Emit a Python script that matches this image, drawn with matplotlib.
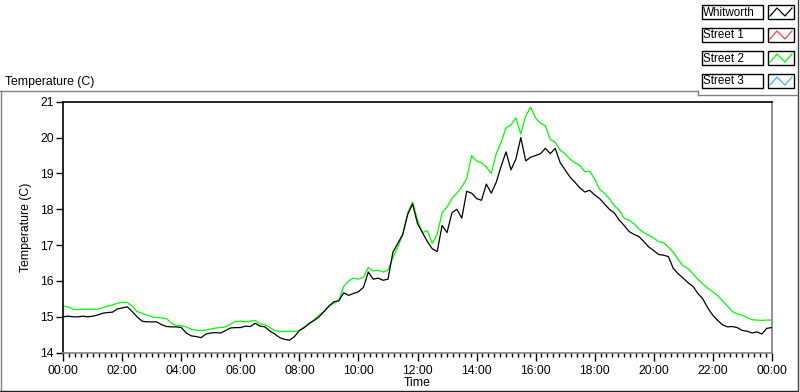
import numpy as np
import matplotlib
matplotlib.use("Agg")
import matplotlib.pyplot as plt
from matplotlib.lines import Line2D
from matplotlib.patches import Rectangle
from matplotlib.ticker import MultipleLocator, FixedLocator

plt.rcParams['font.family'] = ['Liberation Sans', 'DejaVu Sans']

# ---- data (10-minute samples, 00:00 .. 24:00) ----
whitworth = [
    15.0, 15.02, 15.0, 15.0, 15.02, 15.0,
    15.02, 15.05, 15.1, 15.12, 15.13, 15.22,
    15.25, 15.28, 15.15, 15.0, 14.88, 14.86,
    14.86, 14.86, 14.78, 14.73, 14.72, 14.72,
    14.7, 14.55, 14.47, 14.45, 14.42, 14.52,
    14.55, 14.56, 14.55, 14.62, 14.69, 14.7,
    14.7, 14.74, 14.73, 14.82, 14.74, 14.72,
    14.6, 14.52, 14.42, 14.37, 14.35, 14.45,
    14.62, 14.7, 14.82, 14.9, 15.0, 15.15,
    15.3, 15.42, 15.45, 15.67, 15.6, 15.65,
    15.7, 15.82, 16.25, 16.05, 16.08, 16.02,
    16.05, 16.8, 17.05, 17.3, 17.85, 18.15,
    17.6, 17.35, 17.1, 16.9, 16.82, 17.55,
    17.35, 17.9, 18.0, 17.75, 18.5, 18.45,
    18.3, 18.25, 18.7, 18.45, 18.75, 19.2,
    19.6, 19.1, 19.4, 20.0, 19.35, 19.45,
    19.5, 19.55, 19.7, 19.55, 19.7, 19.3,
    19.1, 18.9, 18.75, 18.6, 18.48, 18.53,
    18.4, 18.3, 18.15, 18.0, 17.9, 17.7,
    17.55, 17.38, 17.3, 17.24, 17.1, 16.95,
    16.85, 16.74, 16.72, 16.68, 16.35, 16.2,
    16.08, 15.95, 15.85, 15.65, 15.5, 15.25,
    15.05, 14.9, 14.78, 14.72, 14.73, 14.7,
    14.62, 14.6, 14.55, 14.58, 14.52, 14.68,
    14.7,
]
street2 = [
    15.3, 15.28, 15.21, 15.2, 15.21, 15.21,
    15.21, 15.22, 15.25, 15.3, 15.33, 15.38,
    15.41, 15.4, 15.3, 15.15, 15.1, 15.05,
    15.0, 14.98, 14.97, 14.95, 14.82, 14.76,
    14.75, 14.72, 14.65, 14.63, 14.62, 14.63,
    14.66, 14.69, 14.7, 14.72, 14.8, 14.87,
    14.88, 14.86, 14.88, 14.9, 14.8, 14.78,
    14.7, 14.62, 14.59, 14.59, 14.6, 14.59,
    14.62, 14.72, 14.8, 14.92, 15.05, 15.15,
    15.3, 15.38, 15.45, 15.85, 16.0, 16.08,
    16.05, 16.1, 16.38, 16.28, 16.3, 16.25,
    16.3, 16.65, 16.95, 17.3, 17.9, 18.2,
    17.7, 17.35, 17.4, 17.05, 17.3, 17.9,
    18.06, 18.3, 18.45, 18.62, 18.85, 19.5,
    19.35, 19.3, 19.18, 19.0, 19.55, 19.87,
    20.27, 20.35, 20.55, 20.1, 20.6, 20.85,
    20.55, 20.4, 20.33, 19.95, 19.87, 19.65,
    19.55, 19.4, 19.3, 19.22, 19.05, 19.06,
    18.85, 18.56, 18.45, 18.3, 18.1, 17.98,
    17.75, 17.7, 17.6, 17.45, 17.35, 17.28,
    17.2, 17.1, 17.07, 16.95, 16.8, 16.6,
    16.42, 16.35, 16.2, 16.05, 15.92, 15.8,
    15.7, 15.6, 15.45, 15.3, 15.15, 15.08,
    15.05, 14.98, 14.92, 14.91, 14.9, 14.91,
    14.91,
]
series_names = ["Whitworth", "Street 1", "Street 2", "Street 3"]
series_colors = ["#000000", "#ff4040", "#00ff00", "#3fb4ff"]
x_tick_hours = [0, 2, 4, 6, 8, 10, 12, 14, 16, 18, 20, 22, 24]
x_tick_labels = ["00:00", "02:00", "04:00", "06:00", "08:00", "10:00", "12:00",
                 "14:00", "16:00", "18:00", "20:00", "22:00", "00:00"]
y_ticks = [14, 15, 16, 17, 18, 19, 20, 21]

hours = np.arange(len(whitworth)) / 6.0

W, H = 800, 392
fig = plt.figure(figsize=(W / 100, H / 100), dpi=100)
fig.patch.set_facecolor("white")

def fx(x):
    return x / W

def fy(y):
    return 1 - y / H

FS = 8.8

# plot area
ax = fig.add_axes([fx(63.3), fy(352.7), fx(771.7) - fx(63.3), fy(101.7) - fy(352.7)])
ax.plot(hours, whitworth, color=series_colors[0], lw=0.9, zorder=3)
ax.plot(hours, street2, color=series_colors[2], lw=0.9, zorder=2)
ax.set_xlim(0, 24)
ax.set_ylim(14, 21)
ax.xaxis.set_major_locator(FixedLocator(x_tick_hours))
ax.set_xticklabels(x_tick_labels)
ax.xaxis.set_minor_locator(MultipleLocator(0.2))
ax.set_yticks(y_ticks)
ax.tick_params(axis='y', direction='out', length=5, width=1, labelsize=FS, pad=2, color='black')
ax.tick_params(axis='x', which='major', direction='out', length=6, width=1, labelsize=FS, pad=3, color='black')
ax.tick_params(axis='x', which='minor', direction='out', length=3, width=1, color='black')
for s in ['left', 'top']:
    ax.spines[s].set_color('black')
    ax.spines[s].set_linewidth(1.2)
for s in ['right', 'bottom']:
    ax.spines[s].set_color('#808080')
    ax.spines[s].set_linewidth(1.2)
ax.set_ylabel("Temperature (C)", fontsize=FS, labelpad=6)
ax.set_xlabel("Time", fontsize=FS, labelpad=0)

# outer frame
def fline(x0, y0, x1, y1, color, lw=1.0):
    fig.add_artist(Line2D([fx(x0), fx(x1)], [fy(y0), fy(y1)], color=color, lw=lw,
                          transform=fig.transFigure))

fline(0, 91, 698, 91, '#808080')
fline(1, 91, 1, 390, '#808080')
fline(0, 390.5, 797, 390.5, '#202020')
fline(797.5, 0, 797.5, 391, '#404040')
fline(698, 91, 698, 95, '#808080')
fline(698, 95, 797, 95, '#808080')

fig.text(fx(5), fy(82), "Temperature (C)", fontsize=FS, ha='left', va='center')

# legend (LabVIEW style)
box_tops = [5, 28, 51, 74]
box_h = 14
for name, col, top in zip(series_names, series_colors, box_tops):
    fig.add_artist(Rectangle((fx(701.5), fy(top + box_h)), fx(762.5) - fx(701.5),
                             fy(top) - fy(top + box_h), fill=False, edgecolor='black',
                             lw=1.0, transform=fig.transFigure))
    fig.text(fx(703), fy(top + box_h / 2 + 0.5), name, fontsize=8.4, ha='left', va='center')
    fig.add_artist(Rectangle((fx(767.5), fy(top + box_h)), fx(794) - fx(767.5),
                             fy(top) - fy(top + box_h), fill=False, edgecolor='black',
                             lw=1.0, transform=fig.transFigure))
    gx = [770, 777, 785, 792]
    gy = [top + 11, top + 3, top + 11, top + 3]
    fig.add_artist(Line2D([fx(v) for v in gx], [fy(v) for v in gy], color=col, lw=0.9,
                          transform=fig.transFigure))

fig.savefig("out.png", dpi=100)
